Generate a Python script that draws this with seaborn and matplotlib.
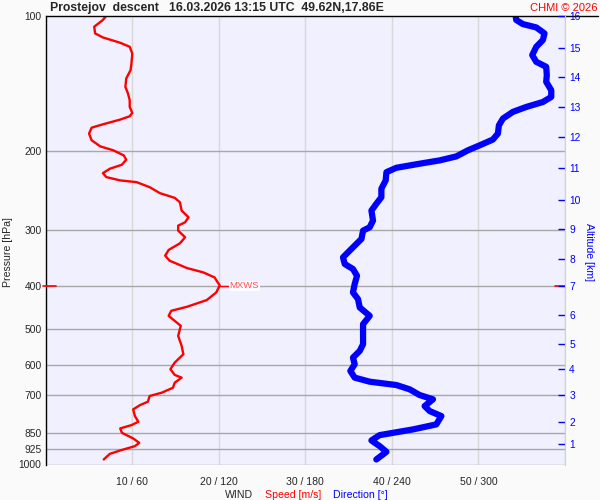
import matplotlib
matplotlib.use("Agg")
import matplotlib.pyplot as plt
from matplotlib.ticker import NullLocator
import numpy as np
import pandas as pd
import seaborn as sns

# wind speed profile (pressure hPa / speed m/s)
speed_p = [100, 102.2, 105.8, 109.5, 111.8, 114.9, 117.3, 121.4, 127.8, 132.2,
           138.0, 144.1, 149.1, 154.3, 159.7, 164.7, 167.5, 170.4, 174.6, 177.6,
           183.1, 189.5, 195.5, 199.5, 204.7, 209.3, 214.8, 219.3, 224.3, 228.9,
           232.8, 234.9, 241.0, 248.6, 254.6, 260.4, 271.8, 281.3, 288.6, 293.6,
           301.2, 311.7, 321.5, 332.6, 342.5, 351.4, 364.9, 373.2, 382.9, 399.0,
           413.7, 430.2, 445.3, 454.5, 466.4, 478.6, 491.0, 516.9, 544.1, 567.9,
           592.9, 613.4, 631.6, 640.4, 657.2, 674.4, 691.8, 703.7, 724.6, 737.1,
           753.6, 780.0, 803.2, 817.0, 831.0, 850.0, 874.8, 894.8, 910.1, 930.4,
           946.9, 974.5]
speed = [7.0, 6.6, 5.6, 5.7, 6.6, 8.6, 9.7, 10.0, 9.9, 9.8,
         9.3, 9.2, 9.5, 9.7, 9.7, 10.0, 9.7, 8.6, 6.6, 5.3,
         5.0, 5.3, 6.3, 7.8, 9.0, 9.3, 8.8, 7.4, 6.6, 7.0,
         8.6, 10.5, 12.0, 13.2, 14.9, 15.5, 15.7, 16.5, 16.1, 15.3,
         15.3, 16.1, 15.5, 14.2, 13.8, 14.3, 16.3, 18.2, 19.5, 20.1,
         19.7, 18.6, 16.3, 14.5, 14.2, 14.9, 15.6, 15.3, 15.7, 15.9,
         14.9, 14.4, 14.9, 15.7, 14.9, 14.7, 13.4, 12.0, 11.8, 10.9,
         10.1, 10.3, 10.7, 9.9, 8.6, 8.8, 10.1, 10.8, 10.3, 8.6,
         7.4, 6.7]

# wind direction profile (pressure hPa / direction deg)
dir_p = [100, 102.2, 104.4, 106.2, 109.5, 113.3, 117.3, 122.4, 126.7, 130.0,
         135.7, 140.4, 146.6, 151.7, 155.7, 159.7, 163.8, 169.5, 175.5, 183.1,
         188.8, 194.5, 199.5, 205.8, 210.1, 213.7, 218.2, 223.2, 232.8, 243.0,
         253.8, 262.5, 271.8, 286.1, 296.1, 301.2, 314.3, 330.9, 345.5, 357.5,
         366.8, 379.7, 396.2, 413.7, 428.0, 446.8, 466.4, 486.8, 539.6, 558.4,
         577.9, 597.9, 618.8, 640.4, 653.9, 665.2, 680.0, 700.1, 715.8, 741.0,
         760.2, 780.0, 814.0, 835.3, 860.1, 883.9, 910.1, 937.1, 974.5]
direction = [325.8, 326.2, 330.8, 340.1, 345.8, 344.7, 340.1, 337.3, 340.1, 347.0,
             347.4, 347.0, 350.5, 350.5, 344.7, 333.2, 323.9, 317.0, 314.2, 313.5,
             310.0, 300.8, 292.7, 284.7, 273.1, 259.2, 243.1, 236.2, 235.7, 232.7,
             232.7, 229.2, 225.8, 226.9, 224.6, 220.0, 218.9, 211.9, 206.1, 207.3,
             213.0, 215.8, 214.2, 213.0, 216.5, 217.7, 224.6, 220.0, 220.0, 217.7,
             213.0, 214.2, 211.2, 214.2, 224.6, 243.1, 252.3, 259.2, 268.5, 262.7,
             266.2, 274.3, 270.8, 254.6, 231.5, 225.8, 231.5, 236.2, 229.2]

p_levels = [100, 200, 300, 400, 500, 600, 700, 850, 925, 1000]
speed_ticks = [10, 20, 30, 40, 50]
dir_ticks = [60, 120, 180, 240, 300]
alt_km = list(range(1, 17))
alt_p = [902, 803, 700, 613, 539, 464, 400, 348, 299, 257, 219, 186, 160, 137, 118, 100]
mxws_p = 400

df_s = pd.DataFrame({"p": speed_p, "v": speed})
df_d = pd.DataFrame({"p": dir_p, "v": np.array(direction) / 6.0})  # deg -> shared axis

sns.set_style("white")
plt.rcParams["font.family"] = ["Liberation Sans", "DejaVu Sans"]

fig = plt.figure(figsize=(6, 5), dpi=100, facecolor="#fafafa")
ax = fig.add_axes([0.0763, 0.071, 0.8653, 0.8976])
ax.set_facecolor("#f0f0ff")

sns.lineplot(data=df_s, x="v", y="p", sort=False, estimator=None, color="#ff0000",
             linewidth=1.7, ax=ax, zorder=4, solid_joinstyle="round")
sns.lineplot(data=df_d, x="v", y="p", sort=False, estimator=None, color="#0000ff",
             linewidth=4.5, ax=ax, zorder=3, solid_capstyle="round",
             solid_joinstyle="round")

ax.set_yscale("log")
ax.set_ylim(1000, 100)
ax.set_xlim(0, 60)
ax.yaxis.set_minor_locator(NullLocator())
ax.set_yticks(p_levels)
ax.set_yticklabels([str(p) for p in p_levels], fontsize=7.4)
ax.set_xticks(speed_ticks)
ax.set_xticklabels([f"{s} / {d}" for s, d in zip(speed_ticks, dir_ticks)], fontsize=7.6)
ax.tick_params(axis="y", length=0, pad=3)
ax.tick_params(axis="x", length=0, pad=9)
ax.set_xlabel("")
ax.set_ylabel("")

for p in p_levels[1:]:
    ax.axhline(p, color="#a8a8a8", lw=1, zorder=1)
for s in speed_ticks + [60]:
    ax.axvline(s, color="#d8d8d8", lw=1, zorder=0.5)

for side in ["bottom", "right"]:
    ax.spines[side].set_visible(False)
ax.spines["left"].set_color("black")
ax.spines["left"].set_linewidth(1)
ax.spines["top"].set_visible(False)
ax.plot([0, 1.063], [1, 1], transform=ax.transAxes, color="black", lw=1,
        clip_on=False, zorder=6)

# max wind marker
imax = int(np.argmax(speed))
ax.plot([speed[imax], speed[imax] + 1.0], [mxws_p, mxws_p], color="#ff0000", lw=1, zorder=5)
ax.text(speed[imax] + 1.1, mxws_p, "MXWS", color="#ff5050", fontsize=6.8, va="center",
        ha="left", zorder=5,
        bbox=dict(facecolor="#fafaff", edgecolor="none", pad=0.5))
yt = ax.get_yaxis_transform()
ax.plot([-0.006, 0.02], [mxws_p, mxws_p], transform=yt, color="#ff0000", lw=1.2,
        clip_on=False, zorder=6)
ax.plot([0.98, 1.0], [mxws_p, mxws_p], transform=yt, color="#ff0000", lw=1.2,
        clip_on=False, zorder=6)

# altitude axis
ax2 = ax.twinx()
ax2.set_yscale("log")
ax2.set_ylim(1000, 100)
ax2.yaxis.set_minor_locator(NullLocator())
ax2.set_yticks(alt_p)
ax2.set_yticklabels([str(a) for a in alt_km], fontsize=7.4)
ax2.tick_params(axis="y", direction="in", length=5, width=1, color="#0000ff",
                labelcolor="#0000ff", pad=3)
for side in ["top", "bottom", "left"]:
    ax2.spines[side].set_visible(False)
ax2.spines["right"].set_color("#d0d0d0")

fig.text(0.083, 0.984, "Prostejov  descent   16.03.2026 13:15 UTC  49.62N,17.86E",
         fontsize=8.8, fontweight="bold", ha="left", va="center")
fig.text(0.996, 0.984, "CHMI © 2026", color="#ff0000", fontsize=8, ha="right", va="center")
fig.text(0.014, 0.496, "Pressure [hPa]", rotation=90, fontsize=7.6, ha="center", va="center")
fig.text(0.982, 0.496, "Altitude [km]", rotation=270, fontsize=7.6, color="#0000ff",
         ha="center", va="center")
fig.text(0.399, 0.011, "WIND", fontsize=7.6, ha="center", va="center")
fig.text(0.488, 0.011, "Speed [m/s]", fontsize=7.6, color="#ff0000", ha="center", va="center")
fig.text(0.601, 0.011, "Direction [°]", fontsize=7.6, color="#0000ff", ha="center", va="center")

fig.savefig("out.png", dpi=100, facecolor=fig.get_facecolor())
